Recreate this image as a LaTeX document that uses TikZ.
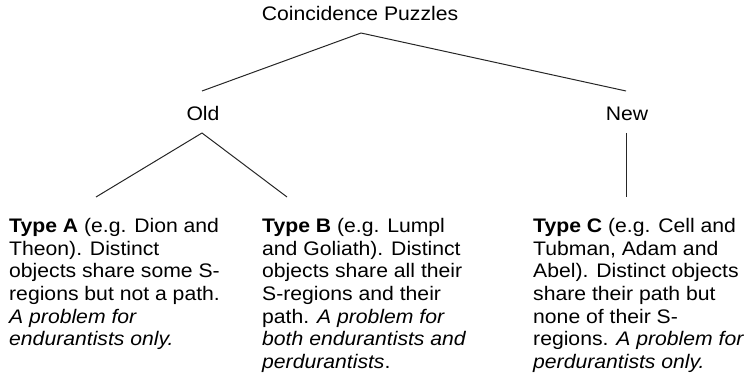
\documentclass[tikz,border=0pt]{standalone}
\usepackage{fontspec}
\setmainfont[FakeStretch=1.08]{Liberation Sans}
\begin{document}
\begin{tikzpicture}[x=1pt,y=-1pt,
  lbl/.style={inner sep=0pt, anchor=base, font=\fontsize{19.6}{22.7}\selectfont},
  txt/.style={inner sep=0pt, anchor=north west, align=left, font=\fontsize{19.6}{22.7}\selectfont},
  edge/.style={draw=black!85, line width=1pt}]
\useasboundingbox (0,0) rectangle (753,390);
\node[lbl] (title) at (360,21) {Coincidence Puzzles};
\node[lbl] (old) at (203,121) {Old};
\node[lbl] (new) at (627,121) {New};
\coordinate (tA) at (96,197);
\coordinate (tB) at (287,197);
\coordinate (tC) at (626,197);
\node[txt] (A) at (9,218) {\textbf{Type A} (e.g. Dion and\\Theon). Distinct\\objects share some S-\\regions but not a path.\\\textit{A problem for}\\\textit{endurantists only.}};
\node[txt] (B) at (262,218) {\textbf{Type B} (e.g. Lumpl\\and Goliath). Distinct\\objects share all their\\S-regions and their\\path. \textit{A problem for}\\\textit{both endurantists and}\\\textit{perdurantists}.};
\node[txt] (C) at (533,218) {\textbf{Type C} (e.g. Cell and\\Tubman, Adam and\\Abel). Distinct objects\\share their path but\\none of their S-\\regions. \textit{A problem for}\\\textit{perdurantists only.}};
\draw[edge] ([xshift=1pt,yshift=-12pt]title.base) -- ([xshift=-1pt,yshift=30pt]old.base);
\draw[edge] ([xshift=1pt,yshift=-12pt]title.base) -- ([xshift=-1pt,yshift=30pt]new.base);
\draw[edge] ([xshift=-1pt,yshift=-12pt]old.base) -- (tA);
\draw[edge] ([xshift=-1pt,yshift=-12pt]old.base) -- (tB);
\draw[edge] ([xshift=-1pt,yshift=-12pt]new.base) -- (tC);
\end{tikzpicture}
\end{document}
